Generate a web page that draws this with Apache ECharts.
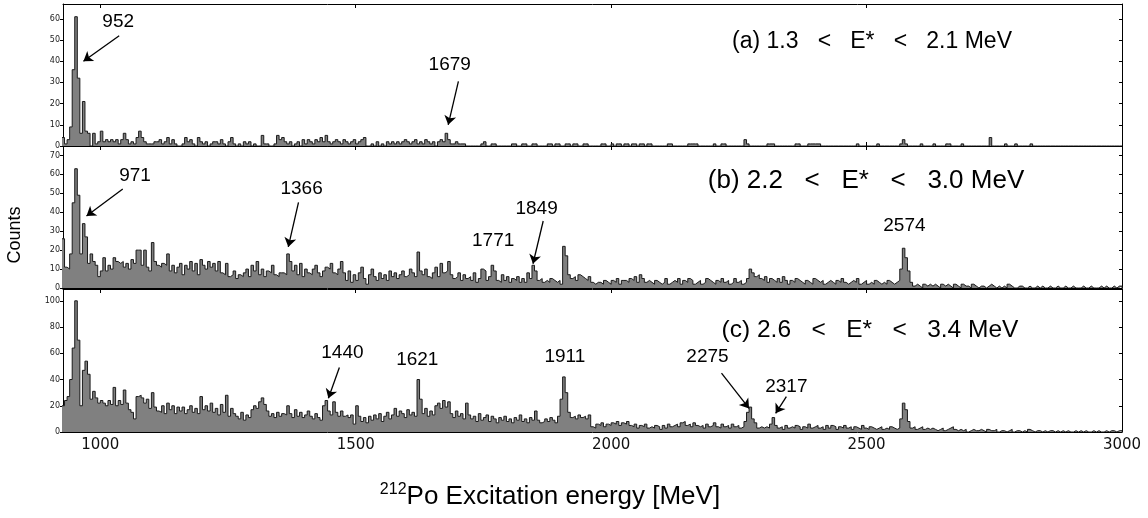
<!DOCTYPE html>
<html>
<head>
<meta charset="utf-8">
<script src="https://cdn.jsdelivr.net/npm/echarts@6/dist/echarts.min.js"></script>
<style>
  html, body { margin: 0; background: #fff; }
  #chart { width: 1148px; height: 518px; }
</style>
</head>
<body>
<div id="chart"></div>
<script>
// histogram bins: 5 MeV wide, first bin starts at 925
const binStart = 925;
const binWidth = 5;

// (a) 1.3 < E* < 2.1 MeV
const countsA = [
  4, 1, 3, 9, 36, 61, 32, 6, 21, 7,
  6, 0, 6, 1, 2, 7, 2, 3, 2, 3,
  2, 3, 1, 3, 6, 3, 1, 2, 1, 4,
  7, 4, 2, 1, 1, 1, 2, 2, 3, 1,
  2, 4, 1, 3, 1, 0, 0, 1, 4, 2,
  3, 1, 0, 4, 2, 1, 2, 0, 1, 2,
  2, 1, 3, 1, 0, 2, 4, 1, 0, 1,
  0, 2, 1, 2, 0, 1, 0, 0, 5, 1,
  1, 0, 0, 1, 5, 3, 4, 2, 1, 2,
  0, 1, 2, 0, 3, 1, 3, 2, 1, 3,
  2, 4, 2, 5, 2, 1, 2, 3, 2, 1,
  3, 2, 1, 2, 3, 1, 2, 3, 4, 0,
  0, 1, 0, 2, 0, 1, 0, 2, 1, 2,
  1, 2, 1, 2, 3, 2, 1, 2, 3, 1,
  2, 1, 3, 2, 1, 2, 0, 2, 3, 2,
  6, 3, 1, 1, 2, 1, 1, 1, 0, 0,
  0, 0, 0, 0, 1, 2, 0, 0, 1, 1,
  0, 0, 0, 0, 0, 0, 1, 1, 0, 0,
  1, 1, 0, 0, 1, 1, 0, 0, 0, 0,
  1, 1, 0, 1, 1, 0, 0, 1, 1, 0,
  1, 1, 0, 0, 1, 1, 0, 0, 0, 0,
  0, 1, 1, 0, 0, 1, 0, 1, 1, 0,
  1, 1, 0, 1, 1, 0, 1, 1, 0, 1,
  1, 0, 0, 0, 0, 0, 0, 1, 1, 0,
  0, 0, 0, 0, 0, 1, 1, 1, 1, 0,
  0, 0, 0, 0, 0, 1, 0, 0, 1, 1,
  0, 0, 0, 0, 0, 0, 0, 3, 1, 0,
  0, 0, 0, 0, 0, 0, 1, 1, 1, 0,
  0, 0, 0, 0, 0, 0, 0, 1, 1, 0,
  0, 0, 1, 1, 1, 1, 1, 0, 0, 0,
  0, 0, 0, 0, 0, 0, 0, 0, 0, 0,
  0, 1, 0, 0, 0, 0, 0, 0, 0, 1,
  0, 0, 0, 0, 0, 0, 0, 0, 1, 3,
  1, 0, 0, 0, 0, 0, 1, 0, 0, 0,
  0, 1, 0, 0, 0, 0, 1, 1, 0, 0,
  0, 0, 1, 0, 0, 0, 0, 0, 0, 0,
  0, 0, 0, 4, 0, 0, 0, 0, 0, 1,
  0, 0, 0, 1, 0, 0, 0, 0, 0, 1,
  0, 0, 0, 0, 0, 0, 0, 0, 0, 0,
  0, 0, 0, 0, 0, 0, 0, 0, 0, 0,
  0, 0, 0, 0, 0, 0, 0, 0, 0, 0,
  0, 0, 0, 0, 0
];

// (b) 2.2 < E* < 3.0 MeV
const countsB = [
  26, 11, 10, 18, 45, 63, 49, 18, 34, 27,
  13, 18, 14, 12, 6, 9, 16, 9, 12, 10,
  16, 14, 13, 14, 11, 13, 10, 15, 13, 20,
  20, 12, 20, 11, 9, 24, 14, 12, 11, 13,
  12, 18, 9, 12, 8, 11, 13, 7, 12, 10,
  14, 9, 13, 7, 15, 12, 10, 14, 11, 13,
  9, 14, 8, 7, 13, 6, 7, 9, 5, 7,
  6, 8, 10, 6, 12, 9, 14, 7, 10, 6,
  9, 8, 12, 7, 6, 8, 8, 7, 18, 14,
  9, 12, 7, 13, 6, 10, 8, 7, 10, 12,
  8, 6, 9, 11, 10, 13, 8, 7, 10, 14,
  8, 4, 9, 3, 7, 4, 8, 11, 5, 2,
  7, 10, 6, 4, 8, 5, 7, 4, 9, 6,
  8, 5, 7, 9, 6, 7, 10, 8, 6, 19,
  9, 7, 10, 6, 5, 8, 11, 6, 13, 8,
  9, 14, 7, 5, 6, 8, 4, 7, 5, 6,
  4, 8, 3, 5, 10, 9, 4, 6, 12, 9,
  4, 3, 7, 4, 6, 3, 5, 4, 6, 3,
  5, 3, 8, 5, 12, 9, 4, 5, 3, 4,
  3, 5, 4, 3, 4, 2, 22, 17, 7, 5,
  6, 4, 7, 6, 5, 4, 6, 3, 2, 3,
  3, 2, 4, 3, 2, 4, 3, 5, 2, 4,
  4, 3, 5, 4, 6, 3, 7, 5, 3, 4,
  3, 2, 4, 3, 2, 3, 5, 2, 3, 4,
  3, 5, 2, 4, 3, 5, 4, 2, 3, 4,
  2, 3, 5, 4, 3, 2, 4, 3, 5, 3,
  4, 2, 3, 5, 3, 4, 2, 3, 5, 10,
  8, 6, 7, 5, 4, 6, 3, 5, 4, 3,
  5, 3, 6, 4, 2, 4, 3, 5, 4, 3,
  2, 4, 3, 2, 5, 4, 3, 4, 2, 3,
  4, 3, 2, 4, 3, 5, 3, 2, 3, 4,
  3, 5, 2, 3, 4, 2, 3, 2, 4, 3,
  2, 3, 2, 4, 3, 2, 3, 4, 10, 21,
  16, 9, 3, 1, 2, 1, 0, 2, 1, 2,
  1, 2, 1, 0, 2, 1, 2, 1, 0, 2,
  1, 0, 2, 1, 1, 0, 2, 1, 0, 1,
  1, 0, 1, 2, 1, 0, 1, 0, 1, 0,
  2, 1, 0, 0, 1, 1, 0, 0, 1, 0,
  0, 1, 0, 1, 0, 0, 1, 0, 0, 1,
  0, 0, 1, 0, 0, 1, 0, 0, 0, 1,
  0, 0, 1, 0, 0, 0, 1, 0, 1, 0,
  0, 1, 0, 1, 1
];

// (c) 2.6 < E* < 3.4 MeV
const countsC = [
  20, 24, 27, 40, 64, 100, 70, 20, 47, 54,
  44, 25, 31, 26, 22, 24, 22, 20, 24, 21,
  34, 20, 24, 21, 32, 22, 17, 15, 10, 27,
  28, 26, 22, 25, 18, 30, 19, 16, 15, 20,
  14, 22, 17, 20, 14, 19, 16, 19, 14, 17,
  20, 15, 18, 14, 27, 17, 20, 16, 22, 15,
  18, 13, 21, 15, 28, 12, 18, 14, 12, 10,
  15, 9, 13, 11, 17, 20, 18, 23, 26, 21,
  16, 12, 14, 11, 15, 12, 14, 13, 20, 14,
  11, 17, 12, 15, 11, 13, 16, 12, 10, 14,
  11, 9, 20, 24, 16, 13, 23, 15, 12, 16,
  12, 13, 11, 13, 6, 20, 12, 8, 11, 7,
  12, 9, 13, 10, 14, 8, 12, 15, 10, 13,
  18, 12, 16, 14, 11, 17, 13, 15, 12, 40,
  25, 14, 18, 12, 16, 13, 20, 22, 18, 24,
  19, 23, 14, 11, 16, 12, 14, 10, 22, 13,
  10, 12, 8, 14, 9, 11, 13, 8, 12, 10,
  7, 11, 9, 12, 8, 10, 7, 11, 9, 13,
  8, 10, 7, 11, 9, 16, 9, 7, 8, 10,
  8, 11, 9, 7, 12, 25, 42, 30, 15, 11,
  12, 10, 13, 11, 12, 10, 13, 4, 3, 6,
  5, 7, 4, 6, 5, 7, 6, 8, 5, 7,
  6, 8, 5, 4, 6, 3, 5, 4, 6, 3,
  4, 3, 5, 4, 2, 5, 3, 6, 4, 5,
  6, 4, 7, 8, 5, 6, 4, 7, 5, 4,
  5, 3, 6, 4, 5, 7, 4, 3, 6, 4,
  5, 3, 6, 4, 5, 3, 4, 8, 15, 19,
  10, 7, 3, 4, 3, 4, 3, 6, 11, 5,
  3, 4, 2, 5, 3, 4, 3, 5, 4, 2,
  4, 3, 6, 3, 4, 5, 3, 4, 2, 5,
  3, 5, 4, 2, 4, 3, 5, 3, 4, 2,
  4, 3, 2, 5, 3, 2, 4, 3, 2, 3,
  4, 2, 3, 2, 4, 3, 2, 3, 10, 22,
  17, 8, 3, 4, 2, 3, 4, 2, 3, 2,
  3, 2, 1, 2, 3, 1, 2, 3, 4, 2,
  1, 2, 1, 2, 0, 1, 2, 1, 1, 2,
  1, 0, 2, 1, 1, 2, 0, 1, 1, 0,
  1, 2, 0, 1, 1, 0, 1, 0, 2, 1,
  0, 1, 1, 0, 1, 0, 1, 1, 0, 1,
  0, 1, 0, 1, 0, 0, 1, 0, 1, 0,
  1, 0, 0, 1, 0, 1, 0, 0, 1, 0,
  1, 1, 0, 1, 1
];

// axis ticks
const xTicks = [1000, 1500, 2000, 2500, 3000];
const yTicksA = [0, 10, 20, 30, 40, 50, 60];
const yTicksB = [0, 10, 20, 30, 40, 50, 60, 70];
const yTicksC = [0, 20, 40, 60, 80, 100];

// peak labels (energy, counts) and arrows (from -> to)
const notesA = [['952', 1035, 58.8], ['1679', 1684, 38.4]];
const arrowsA = [[1037, 52, 967, 40], [1701, 30.5, 1681, 10]];
const notesB = [['971', 1068, 59.4], ['1366', 1394, 52.6], ['1771', 1769, 24.7], ['1849', 1854, 42], ['2574', 2574, 33]];
const arrowsB = [[1044, 52.3, 973, 38], [1388, 45.2, 1368, 21.7], [1867, 35.4, 1847, 12.8]];
const notesC = [['1440', 1474, 60.3], ['1621', 1620.5, 55.2], ['1911', 1909.4, 57], ['2275', 2188.5, 57], ['2317', 2343, 34.6]];
const arrowsC = [[1468, 49.2, 1446.5, 25.7], [2216, 44.9, 2270, 18], [2343, 26.9, 2322, 14.2]];

const xMin = 927, xMax = 3000;
const textFont = '"Liberation Sans", Arial, sans-serif';
const tickFont = '"DejaVu Sans", sans-serif';

function steps(counts) {
  const pts = counts.map((c, i) => [binStart + i * binWidth, c]);
  pts.push([binStart + counts.length * binWidth, 0]);
  return pts;
}

const panels = [
  {top: 4, height: 142, ymax: 67, yTicks: yTicksA, counts: countsA, notes: notesA, arrows: arrowsA},
  {top: 146, height: 142, ymax: 75, yTicks: yTicksB, counts: countsB, notes: notesB, arrows: arrowsB},
  {top: 289, height: 143, ymax: 109, yTicks: yTicksC, counts: countsC, notes: notesC, arrows: arrowsC}
];

const grid = [], xAxis = [], yAxis = [], series = [];
const lineBlack = {color: '#000', width: 1};

panels.forEach(function (p, i) {
  grid.push({left: 63, right: 26, top: p.top, height: p.height});
  ['bottom', 'top'].forEach(function (pos) {
    xAxis.push({
      type: 'value', gridIndex: i, position: pos, min: xMin, max: xMax,
      axisLine: {show: true, onZero: false, lineStyle: lineBlack},
      axisTick: {show: true, inside: true, length: 4, customValues: xTicks, lineStyle: lineBlack},
      axisLabel: {
        show: pos === 'bottom' && i === 2, customValues: xTicks, margin: 6,
        formatter: v => String(v),
        color: '#111', fontSize: 15, fontFamily: tickFont
      },
      splitLine: {show: false}
    });
  });
  ['left', 'right'].forEach(function (pos) {
    yAxis.push({
      type: 'value', gridIndex: i, position: pos, min: 0, max: p.ymax,
      axisLine: {show: true, onZero: false, lineStyle: lineBlack},
      axisTick: {show: true, inside: pos === 'right', length: 3, customValues: p.yTicks, lineStyle: lineBlack},
      axisLabel: {
        show: pos === 'left', customValues: p.yTicks, margin: 3,
        color: '#222', fontSize: 8, fontFamily: tickFont
      },
      splitLine: {show: false}
    });
  });
  series.push({
    type: 'line', xAxisIndex: 2 * i, yAxisIndex: 2 * i,
    step: 'end', symbol: 'none', silent: true,
    lineStyle: {color: '#1a1a1a', width: 1},
    areaStyle: {color: '#808080', opacity: 1},
    data: steps(p.counts)
  });
  series.push({
    type: 'scatter', xAxisIndex: 2 * i, yAxisIndex: 2 * i,
    symbolSize: 1, silent: true, z: 5,
    itemStyle: {color: 'rgba(0,0,0,0)'},
    label: {
      show: true, position: 'inside', formatter: '{b}',
      color: '#000', opacity: 1, textBorderWidth: 0,
      fontSize: 19, fontFamily: textFont
    },
    data: p.notes.map(n => ({name: n[0], value: [n[1], n[2]]})),
    markLine: {
      silent: true, symbol: ['none', 'arrow'], symbolSize: 9,
      label: {show: false},
      lineStyle: {color: '#000', width: 1.3, type: 'solid'},
      data: p.arrows.map(a => [{coord: [a[0], a[1]]}, {coord: [a[2], a[3]]}])
    }
  });
});

const panelTitles = [
  ['(a) 1.3   <   E*   <   2.1 MeV', 872, 42, 23],
  ['(b) 2.2   <   E*   <   3.0 MeV', 866, 181, 26],
  ['(c) 2.6   <   E*   <   3.4 MeV', 870, 330, 24.5]
];

const graphic = panelTitles.map(t => ({
  type: 'text', x: t[1], y: t[2], z: 10,
  style: {text: t[0], fill: '#000', font: t[3] + 'px ' + textFont, align: 'center', verticalAlign: 'middle'}
}));
graphic.push({
  type: 'text', x: 15, y: 235, rotation: Math.PI / 2,
  style: {text: 'Counts', fill: '#000', font: '18px ' + textFont, align: 'center', verticalAlign: 'middle'}
});
graphic.push({
  type: 'text', x: 550, y: 497,
  style: {
    text: '{s|212}{n|Po Excitation energy [MeV]}',
    align: 'center', verticalAlign: 'middle',
    rich: {
      s: {fontSize: 16, fontFamily: textFont, fill: '#000', verticalAlign: 'top', lineHeight: 30},
      n: {fontSize: 26, fontFamily: textFont, fill: '#000', lineHeight: 30}
    }
  }
});

const chart = echarts.init(document.getElementById('chart'));
chart.setOption({
  animation: false,
  backgroundColor: '#fff',
  grid: grid,
  xAxis: xAxis,
  yAxis: yAxis,
  series: series,
  graphic: graphic
});
</script>
</body>
</html>
